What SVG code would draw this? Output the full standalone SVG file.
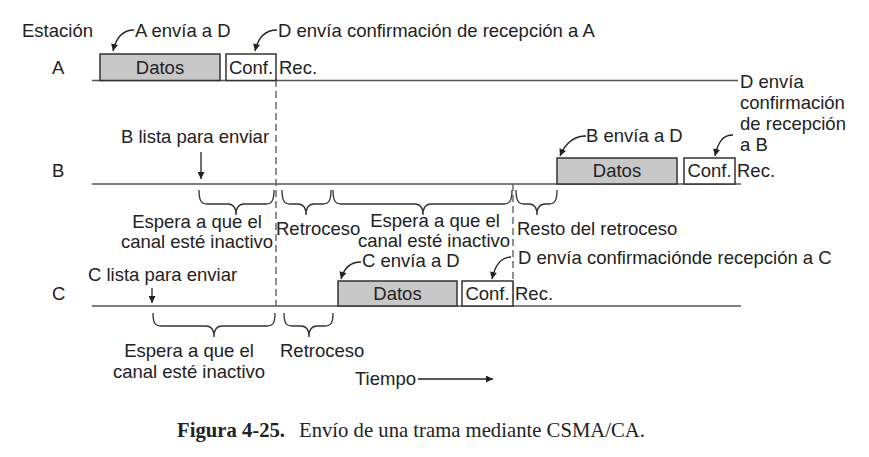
<svg xmlns="http://www.w3.org/2000/svg" width="869" height="457" viewBox="0 0 869 457">
<defs>
<marker id="ah" viewBox="0 0 10 10" refX="10" refY="5" markerWidth="9" markerHeight="7" markerUnits="userSpaceOnUse" orient="auto">
<path d="M0,0 L10,5 L0,10 z" fill="#222"/>
</marker>
<style>
text{font-family:"Liberation Sans",Arial,Helvetica,sans-serif;font-size:18.5px;fill:#222}
.m{text-anchor:middle}
.ln{stroke:#555;stroke-width:1.6;fill:none}
.dash{stroke:#555;stroke-width:1.3;stroke-dasharray:7,4;fill:none}
.br{stroke:#333;stroke-width:1.3;fill:none}
.arr{stroke:#222;stroke-width:1.3;fill:none;marker-end:url(#ah)}
.data{fill:#c8c8c8;stroke:#333;stroke-width:1.5}
.conf{fill:#fff;stroke:#333;stroke-width:1.5}
.cap{font-family:"Liberation Serif","Times New Roman",serif;font-size:20.7px;fill:#222}
</style>
</defs>
<rect width="869" height="457" fill="#fff"/>

<g id="station-labels">
<text x="22" y="37">Estación</text>
<text x="52" y="74">A</text>
<text x="52" y="177">B</text>
<text x="52" y="300">C</text>
</g>

<g id="connectors">
<line class="ln" x1="92" y1="80.5" x2="738" y2="80.5"/>
<line class="ln" x1="92" y1="184" x2="741" y2="184"/>
<line class="ln" x1="92" y1="306" x2="741" y2="306"/>
<line class="dash" x1="276" y1="80" x2="276" y2="306"/>
<line class="dash" x1="513" y1="184" x2="513" y2="306"/>
<path class="arr" d="M134,30 C122,30 116,38 113,51"/>
<path class="arr" d="M277,30 C265,30 258,38 255,51"/>
<path class="arr" d="M586,136 C574,136 565,144 560,156"/>
<path class="arr" d="M733,135 C722,135 718,143 715,156"/>
<path class="arr" d="M361,262 C350,262 344,268 341,279"/>
<path class="arr" d="M511,257 C501,257 495,265 492,279"/>
<line class="arr" x1="201" y1="152" x2="201" y2="179"/>
<line class="arr" x1="152" y1="288" x2="152" y2="303"/>
<line class="arr" x1="418" y1="379" x2="493" y2="379"/>
</g>

<g id="braces">
<path class="br" d="M199,190 C199,200 201,204 207,204 L228,204 C234,204 236,208 236,215 C236,208 238,204 244,204 L266,204 C272,204 274,200 274,190"/>
<path class="br" d="M282,190 C282,200 284,204 290,204 L298,204 C304,204 306,208 306,215 C306,208 308,204 314,204 L323,204 C329,204 331,200 331,190"/>
<path class="br" d="M333,190 C333,200 335,204 341,204 L415,204 C421,204 423,208 423,215 C423,208 425,204 431,204 L504,204 C510,204 512,200 512,190"/>
<path class="br" d="M516,190 C516,200 518,204 524,204 L529,204 C535,204 537,208 537,215 C537,208 539,204 545,204 L549,204 C555,204 557,200 557,190"/>
<path class="br" d="M153,313 C153,323 155,326 161,326 L206,326 C212,326 214,330 214,337 C214,330 216,326 222,326 L267,326 C273,326 275,323 275,313"/>
<path class="br" d="M284,313 C284,323 286,326 292,326 L301,326 C307,326 309,330 309,337 C309,330 311,326 317,326 L325,326 C331,326 333,323 333,313"/>
</g>

<g id="station-a">
<rect class="data" x="100" y="54" width="120" height="26.5"/>
<text class="m" x="160" y="74">Datos</text>
<rect class="conf" x="226" y="54" width="50" height="26.5"/>
<text class="m" x="251" y="74">Conf.</text>
<text x="279" y="74">Rec.</text>
<text x="135" y="37">A envía a D</text>
<text x="278" y="37">D envía confirmación de recepción a A</text>
</g>

<g id="station-b">
<rect class="data" x="557" y="158" width="120" height="26"/>
<text class="m" x="617" y="177">Datos</text>
<rect class="conf" x="684" y="158" width="51" height="26"/>
<text class="m" x="709.5" y="177">Conf.</text>
<text x="737" y="177">Rec.</text>
<text x="586" y="142">B envía a D</text>
<text x="740" y="88">D envía</text>
<text x="740" y="109">confirmación</text>
<text x="740" y="130">de recepción</text>
<text x="740" y="151">a B</text>
<text x="121" y="143">B lista para enviar</text>
<text class="m" x="197" y="228">Espera a que el</text>
<text class="m" x="197" y="248">canal esté inactivo</text>
<text x="276" y="235">Retroceso</text>
<text class="m" x="435" y="227">Espera a que el</text>
<text class="m" x="434" y="247">canal esté inactivo</text>
<text x="517" y="235">Resto del retroceso</text>
</g>

<g id="station-c">
<rect class="data" x="338" y="281" width="119" height="25"/>
<text class="m" x="397.5" y="300">Datos</text>
<rect class="conf" x="462" y="281" width="51" height="25"/>
<text class="m" x="487.5" y="300">Conf.</text>
<text x="515" y="300">Rec.</text>
<text x="362" y="267">C envía a D</text>
<text x="518" y="264">D envía confirmaciónde recepción a C</text>
<text x="88" y="281">C lista para enviar</text>
<text class="m" x="189" y="357">Espera a que el</text>
<text class="m" x="189" y="378">canal esté inactivo</text>
<text x="280" y="357">Retroceso</text>
</g>

<g id="time">
<text x="355" y="385">Tiempo</text>
</g>

<g id="caption">
<text class="cap" x="177" y="437" font-weight="bold">Figura 4-25.</text>
<text class="cap" x="299" y="437">Envío de una trama mediante CSMA/CA.</text>
</g>
</svg>
